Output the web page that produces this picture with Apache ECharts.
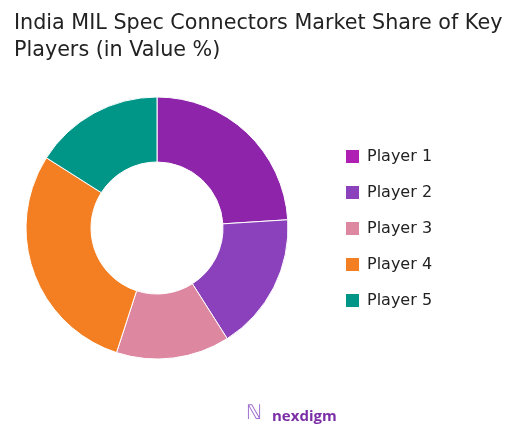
<!DOCTYPE html>
<html>
<head>
<meta charset="utf-8">
<script src="https://cdn.jsdelivr.net/npm/echarts@6/dist/echarts.min.js"></script>
<style>
html,body{margin:0;padding:0;background:#fff;}
#c{width:523px;height:430px;}
</style>
</head>
<body>
<div id="c"></div>
<script>
const titleText = 'India MIL Spec Connectors Market Share of Key\nPlayers (in Value %)';
const players = ['Player 1', 'Player 2', 'Player 3', 'Player 4', 'Player 5'];
const shares = [24, 17, 14, 29, 16];
const colors = ['#8E24AA', '#8A41BB', '#DE87A1', '#F47F22', '#009687'];
const legendColors = ['#AF1FB4', '#8A41BB', '#DE87A1', '#F47F22', '#009687'];

const chart = echarts.init(document.getElementById('c'), null, {renderer: 'canvas'});
chart.setOption({
  backgroundColor: '#fff',
  animation: false,
  color: colors,
  title: {
    text: titleText,
    left: 9,
    top: 5,
    textStyle: {
      fontFamily: '"DejaVu Sans", sans-serif',
      fontSize: 20.7,
      fontWeight: 'normal',
      color: '#222',
      lineHeight: 27
    }
  },
  legend: {
    orient: 'vertical',
    left: 344,
    top: 148,
    padding: 0,
    itemWidth: 15,
    itemHeight: 15,
    itemGap: 19,
    icon: 'rect',
    textStyle: {
      fontFamily: '"DejaVu Sans", sans-serif',
      fontSize: 16,
      color: '#222',
      padding: [0, 0, 0, 2]
    },
    data: players.map((p, i) => ({name: p, itemStyle: {color: legendColors[i]}}))
  },
  graphic: [{
    type: 'text',
    left: 272,
    top: 409,
    style: {
      text: 'nexdigm',
      fill: '#7B2FA6',
      font: 'bold 15px "Open Sans", sans-serif'
    }
  }, {
    type: 'text',
    left: 246,
    top: 404,
    style: {
      text: 'ℕ',
      fill: '#A070D0',
      font: '20px "DejaVu Sans", sans-serif'
    }
  }],
  series: [{
    type: 'pie',
    center: [157, 228],
    radius: [66, 131],
    startAngle: 90,
    clockwise: true,
    label: {show: false},
    labelLine: {show: false},
    itemStyle: {borderColor: '#fff', borderWidth: 1},
    data: players.map((p, i) => ({name: p, value: shares[i]}))
  }]
});
</script>
</body>
</html>
